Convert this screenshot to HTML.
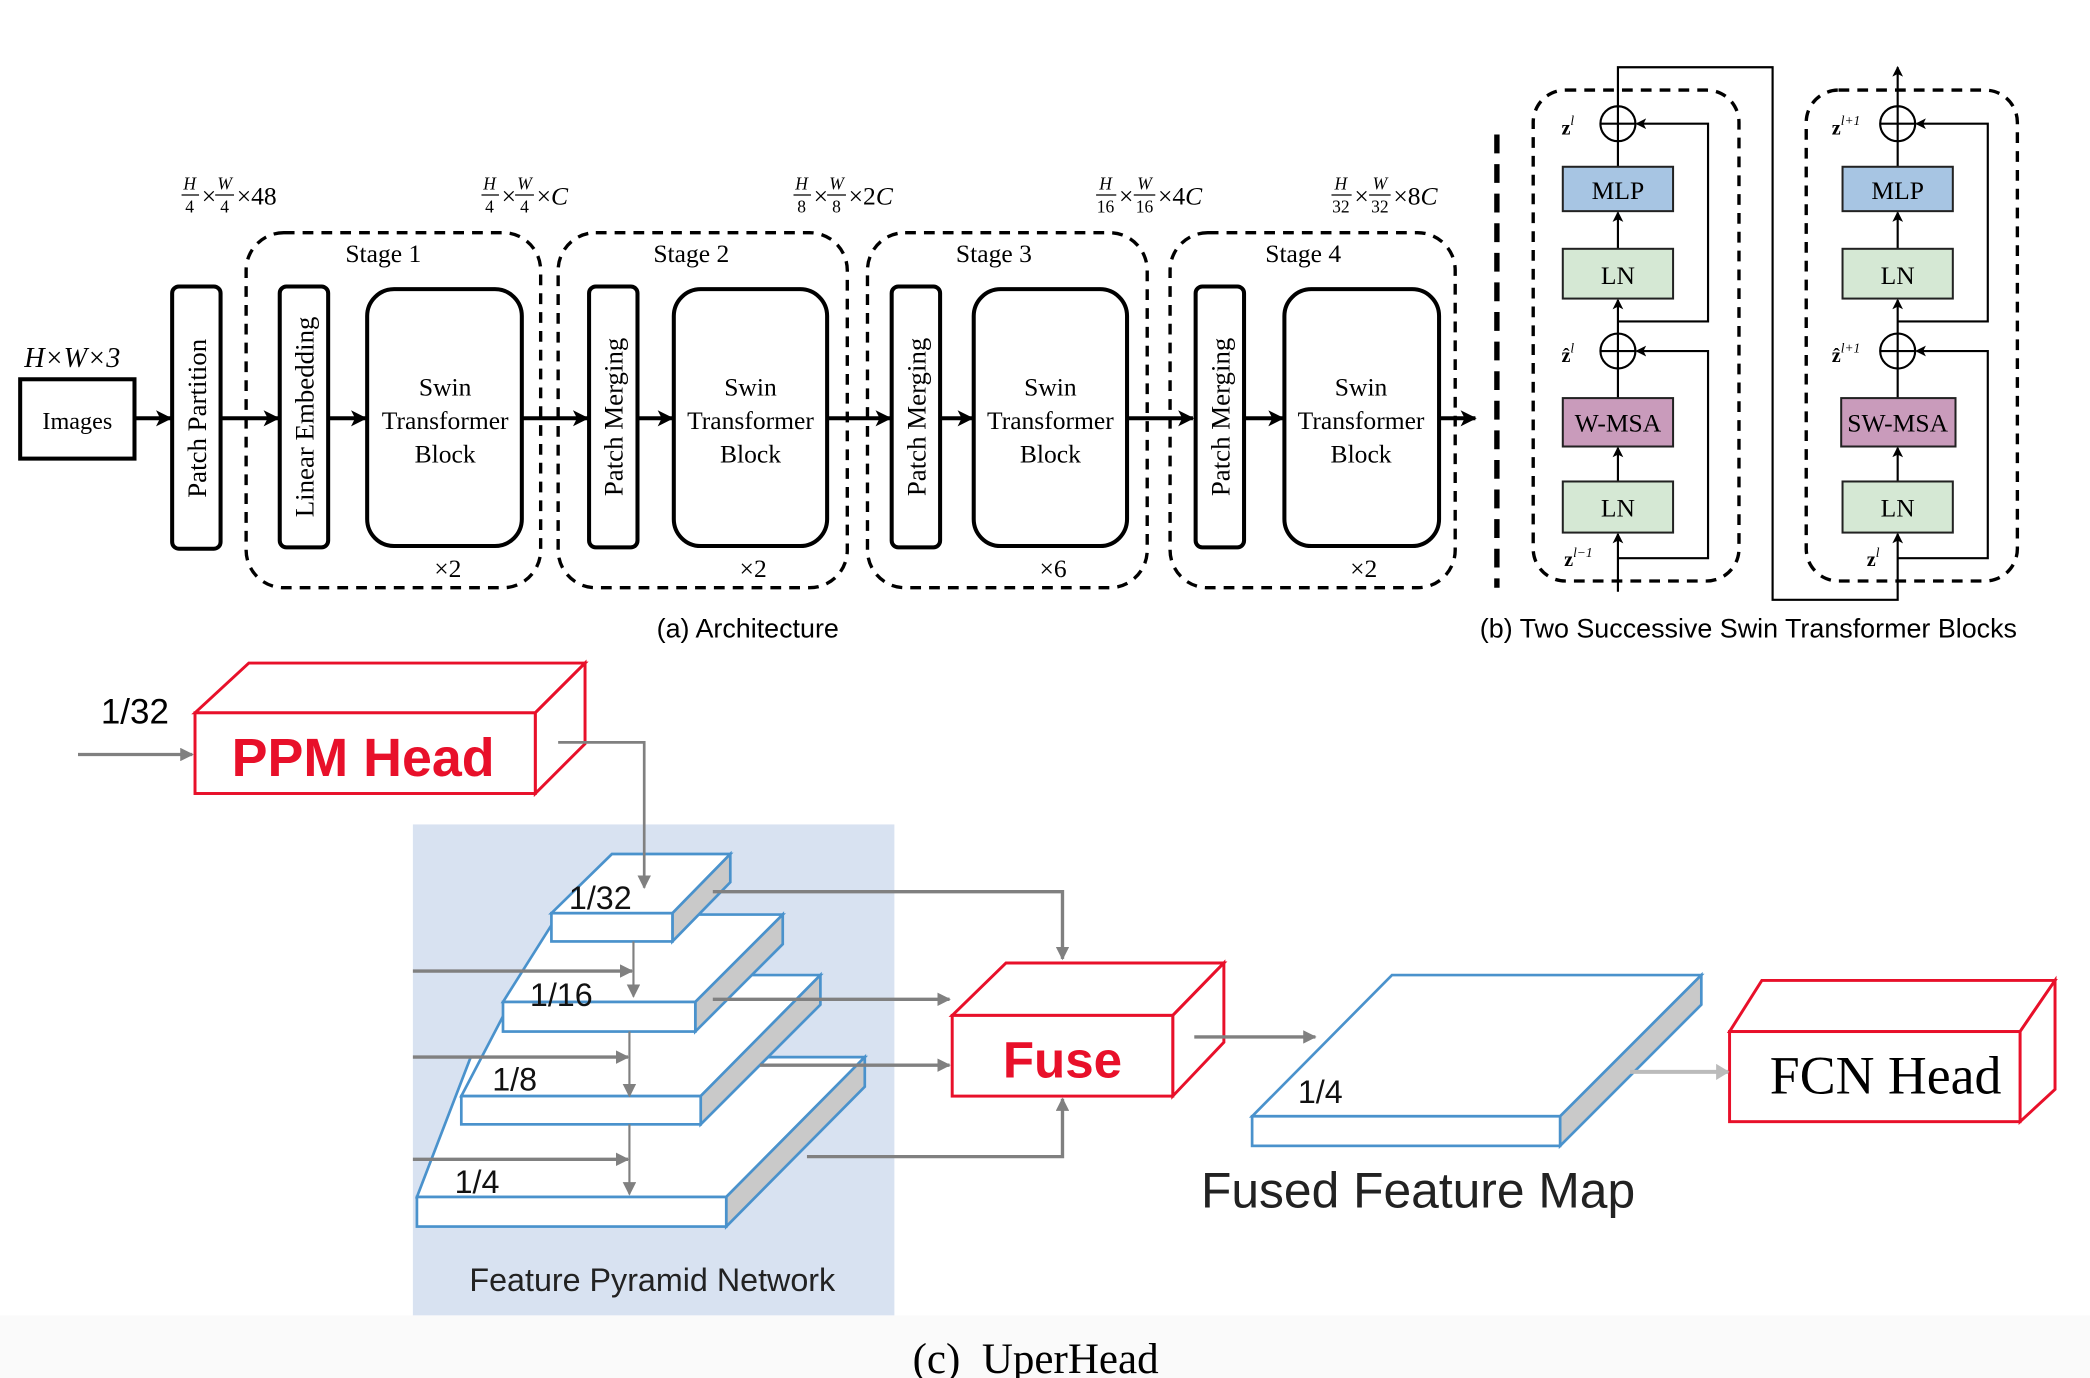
<!DOCTYPE html>
<html><head><meta charset="utf-8"><style>
html,body{margin:0;padding:0;background:#fff;}
svg{display:block;}
.serif{font-family:"Liberation Serif",serif;}
.sans{font-family:"Liberation Sans",sans-serif;}
</style></head><body>
<svg width="2090" height="1378" viewBox="0 0 1554 1024.6" preserveAspectRatio="none" xmlns="http://www.w3.org/2000/svg">
<defs>
<marker id="ab" markerWidth="8" markerHeight="8" refX="7" refY="4" orient="auto" markerUnits="userSpaceOnUse"><path d="M0,0 L8,4 L0,8 L2,4 z" fill="#000"/></marker>
<marker id="abs" markerWidth="12" markerHeight="12" refX="11" refY="6" orient="auto" markerUnits="userSpaceOnUse"><path d="M0,0 L12,6 L0,12 L3,6 z" fill="#000"/></marker>
<marker id="ag" markerWidth="10" markerHeight="10" refX="9" refY="5" orient="auto" markerUnits="userSpaceOnUse"><path d="M0,0 L10,5 L0,10 z" fill="#808080"/></marker>
<marker id="agl" markerWidth="10" markerHeight="12" refX="9" refY="6" orient="auto" markerUnits="userSpaceOnUse"><path d="M0,0 L10,6 L0,12 z" fill="#bbb"/></marker>
</defs>
<rect x="0" y="0" width="1554" height="1025" fill="#fff"/>
<rect x="0" y="978" width="1554" height="47" fill="#fafafa"/>

<!-- (a) -->
<g class="serif" fill="#000">
<text x="18" y="273" font-size="21" font-style="italic">H×W×3</text>
<rect x="15" y="282" width="85" height="59" fill="none" stroke="#000" stroke-width="3"/>
<text x="57.5" y="319" font-size="18" text-anchor="middle">Images</text>
</g>
<g stroke="#000" stroke-width="3" fill="none">
<line x1="100" y1="311" x2="127" y2="311" marker-end="url(#abs)"/>
<line x1="164" y1="311" x2="207" y2="311" marker-end="url(#abs)"/>
<line x1="244" y1="311" x2="272" y2="311" marker-end="url(#abs)"/>
<line x1="388" y1="311" x2="437" y2="311" marker-end="url(#abs)"/>
<line x1="474" y1="311" x2="500" y2="311" marker-end="url(#abs)"/>
<line x1="615" y1="311" x2="662" y2="311" marker-end="url(#abs)"/>
<line x1="699" y1="311" x2="723" y2="311" marker-end="url(#abs)"/>
<line x1="838" y1="311" x2="887" y2="311" marker-end="url(#abs)"/>
<line x1="925" y1="311" x2="954" y2="311" marker-end="url(#abs)"/>
<line x1="1070" y1="311" x2="1097" y2="311" marker-end="url(#abs)"/>
<rect x="128" y="213" width="36" height="195" rx="5"/>
<rect x="208" y="213" width="36" height="194" rx="5"/>
<rect x="438" y="213" width="36" height="194" rx="5"/>
<rect x="663" y="213" width="36" height="194" rx="5"/>
<rect x="889" y="213" width="36" height="194" rx="5"/>
<rect x="273" y="215" width="115" height="191" rx="20"/>
<rect x="501" y="215" width="114" height="191" rx="20"/>
<rect x="724" y="215" width="114" height="191" rx="20"/>
<rect x="955" y="215" width="115" height="191" rx="20"/>
</g>
<g stroke="#000" stroke-width="2.5" fill="none" stroke-dasharray="8,6">
<rect x="183" y="173" width="219" height="264" rx="28"/>
<rect x="415" y="173" width="215" height="264" rx="28"/>
<rect x="645" y="173" width="208" height="264" rx="28"/>
<rect x="870" y="173" width="212" height="264" rx="28"/>
</g>
<g class="serif" font-size="20" fill="#000" text-anchor="middle">
<text transform="translate(153,311) rotate(-90)">Patch Partition</text>
<text transform="translate(233,310) rotate(-90)">Linear Embedding</text>
<text transform="translate(463,310) rotate(-90)">Patch Merging</text>
<text transform="translate(688,310) rotate(-90)">Patch Merging</text>
<text transform="translate(914,310) rotate(-90)">Patch Merging</text>
<g font-size="19">
<text x="331" y="294">Swin</text><text x="331" y="319">Transformer</text><text x="331" y="344">Block</text>
<text x="558" y="294">Swin</text><text x="558" y="319">Transformer</text><text x="558" y="344">Block</text>
<text x="781" y="294">Swin</text><text x="781" y="319">Transformer</text><text x="781" y="344">Block</text>
<text x="1012" y="294">Swin</text><text x="1012" y="319">Transformer</text><text x="1012" y="344">Block</text>
<text x="285" y="195">Stage 1</text><text x="514" y="195">Stage 2</text>
<text x="739" y="195">Stage 3</text><text x="969" y="195">Stage 4</text>
<text x="333" y="429">×2</text><text x="560" y="429">×2</text>
<text x="783" y="429">×6</text><text x="1014" y="429">×2</text>
</g>
</g>
<!-- dims -->
<g class="serif" fill="#000" font-size="13">
<g transform="translate(135,0)"><text x="6" y="141" font-style="italic" text-anchor="middle">H</text><line x1="0" y1="145" x2="13" y2="145" stroke="#000"/><text x="6" y="158" text-anchor="middle">4</text>
<text x="15" y="152" font-size="19">×</text><text x="32" y="141" font-style="italic" text-anchor="middle">W</text><line x1="25" y1="145" x2="39" y2="145" stroke="#000"/><text x="32" y="158" text-anchor="middle">4</text><text x="41" y="152" font-size="19">×48</text></g>
<g transform="translate(358,0)"><text x="6" y="141" font-style="italic" text-anchor="middle">H</text><line x1="0" y1="145" x2="13" y2="145" stroke="#000"/><text x="6" y="158" text-anchor="middle">4</text>
<text x="15" y="152" font-size="19">×</text><text x="32" y="141" font-style="italic" text-anchor="middle">W</text><line x1="25" y1="145" x2="39" y2="145" stroke="#000"/><text x="32" y="158" text-anchor="middle">4</text><text x="41" y="152" font-size="19">×<tspan font-style="italic">C</tspan></text></g>
<g transform="translate(590,0)"><text x="6" y="141" font-style="italic" text-anchor="middle">H</text><line x1="0" y1="145" x2="13" y2="145" stroke="#000"/><text x="6" y="158" text-anchor="middle">8</text>
<text x="15" y="152" font-size="19">×</text><text x="32" y="141" font-style="italic" text-anchor="middle">W</text><line x1="25" y1="145" x2="39" y2="145" stroke="#000"/><text x="32" y="158" text-anchor="middle">8</text><text x="41" y="152" font-size="19">×2<tspan font-style="italic">C</tspan></text></g>
<g transform="translate(815,0)"><text x="7" y="141" font-style="italic" text-anchor="middle">H</text><line x1="0" y1="145" x2="15" y2="145" stroke="#000"/><text x="7" y="158" text-anchor="middle">16</text>
<text x="17" y="152" font-size="19">×</text><text x="36" y="141" font-style="italic" text-anchor="middle">W</text><line x1="28" y1="145" x2="44" y2="145" stroke="#000"/><text x="36" y="158" text-anchor="middle">16</text><text x="46" y="152" font-size="19">×4<tspan font-style="italic">C</tspan></text></g>
<g transform="translate(990,0)"><text x="7" y="141" font-style="italic" text-anchor="middle">H</text><line x1="0" y1="145" x2="15" y2="145" stroke="#000"/><text x="7" y="158" text-anchor="middle">32</text>
<text x="17" y="152" font-size="19">×</text><text x="36" y="141" font-style="italic" text-anchor="middle">W</text><line x1="28" y1="145" x2="44" y2="145" stroke="#000"/><text x="36" y="158" text-anchor="middle">32</text><text x="46" y="152" font-size="19">×8<tspan font-style="italic">C</tspan></text></g>
</g>
<text x="556" y="474" class="sans" font-size="20" text-anchor="middle">(a) Architecture</text>
<line x1="1113" y1="100" x2="1113" y2="437" stroke="#000" stroke-width="4" stroke-dasharray="14,8"/>

<!-- (b) -->
<g stroke="#000" stroke-width="2.5" fill="none" stroke-dasharray="8,6">
<rect x="1140" y="67" width="153" height="365" rx="24"/>
<rect x="1343" y="67" width="157" height="365" rx="24"/>
</g>
<g stroke="#000" stroke-width="1.6" fill="none">
<!-- block1 -->
<line x1="1203" y1="440" x2="1203" y2="397" marker-end="url(#ab)"/>
<line x1="1203" y1="358" x2="1203" y2="333" marker-end="url(#ab)"/>
<line x1="1203" y1="296" x2="1203" y2="274"/>
<line x1="1203" y1="248" x2="1203" y2="223" marker-end="url(#ab)"/>
<line x1="1203" y1="185" x2="1203" y2="158" marker-end="url(#ab)"/>
<line x1="1203" y1="124" x2="1203" y2="105"/>
<polyline points="1203,415 1270,415 1270,261 1217,261" marker-end="url(#ab)"/>
<polyline points="1203,239 1270,239 1270,92 1217,92" marker-end="url(#ab)"/>
<polyline points="1203,79 1203,50 1318,50 1318,446 1411,446 1411,397" marker-end="url(#ab)"/>
<circle cx="1203" cy="92" r="13"/><line x1="1190" y1="92" x2="1216" y2="92"/>
<circle cx="1203" cy="261" r="13"/><line x1="1190" y1="261" x2="1216" y2="261"/>
<!-- block2 -->
<line x1="1411" y1="358" x2="1411" y2="333" marker-end="url(#ab)"/>
<line x1="1411" y1="296" x2="1411" y2="274"/>
<line x1="1411" y1="248" x2="1411" y2="223" marker-end="url(#ab)"/>
<line x1="1411" y1="185" x2="1411" y2="158" marker-end="url(#ab)"/>
<line x1="1411" y1="124" x2="1411" y2="105"/>
<polyline points="1411,415 1478,415 1478,261 1425,261" marker-end="url(#ab)"/>
<polyline points="1411,239 1478,239 1478,92 1425,92" marker-end="url(#ab)"/>
<line x1="1411" y1="79" x2="1411" y2="50" marker-end="url(#ab)"/>
<circle cx="1411" cy="92" r="13"/><line x1="1398" y1="92" x2="1424" y2="92"/><line x1="1411" y1="79" x2="1411" y2="105"/>
<circle cx="1411" cy="261" r="13"/><line x1="1398" y1="261" x2="1424" y2="261"/><line x1="1411" y1="248" x2="1411" y2="274"/>
<line x1="1203" y1="79" x2="1203" y2="105"/><line x1="1203" y1="248" x2="1203" y2="274"/>
</g>
<g stroke="#222" stroke-width="1.5">
<rect x="1162" y="124" width="82" height="33" fill="#a7c5e3"/>
<rect x="1162" y="185" width="82" height="37" fill="#d5e8d4"/>
<rect x="1162" y="296" width="82" height="36" fill="#c99bbb"/>
<rect x="1162" y="358" width="82" height="38" fill="#d5e8d4"/>
<rect x="1370" y="124" width="82" height="33" fill="#a7c5e3"/>
<rect x="1370" y="185" width="82" height="37" fill="#d5e8d4"/>
<rect x="1369" y="296" width="85" height="36" fill="#c99bbb"/>
<rect x="1370" y="358" width="82" height="38" fill="#d5e8d4"/>
</g>
<g class="serif" font-size="19" text-anchor="middle" fill="#000">
<text x="1203" y="148">MLP</text><text x="1203" y="211">LN</text><text x="1203" y="321">W-MSA</text><text x="1203" y="384">LN</text>
<text x="1411" y="148">MLP</text><text x="1411" y="211">LN</text><text x="1411" y="321">SW-MSA</text><text x="1411" y="384">LN</text>
</g>
<g class="serif" font-size="15" font-weight="bold" fill="#000">
<text x="1161" y="100">z<tspan font-size="10" font-style="italic" font-weight="normal" dy="-7">l</tspan></text>
<text x="1161" y="269">ẑ<tspan font-size="10" font-style="italic" font-weight="normal" dy="-7">l</tspan></text>
<text x="1163" y="421">z<tspan font-size="10" font-style="italic" font-weight="normal" dy="-7">l−1</tspan></text>
<text x="1362" y="100">z<tspan font-size="10" font-style="italic" font-weight="normal" dy="-7">l+1</tspan></text>
<text x="1362" y="269">ẑ<tspan font-size="10" font-style="italic" font-weight="normal" dy="-7">l+1</tspan></text>
<text x="1388" y="421">z<tspan font-size="10" font-style="italic" font-weight="normal" dy="-7">l</tspan></text>
</g>
<text x="1300" y="474" class="sans" font-size="20" text-anchor="middle">(b) Two Successive Swin Transformer Blocks</text>

<!-- (c) -->
<rect x="307" y="613" width="358" height="365" fill="#d8e2f1"/>
<g stroke="#e8102a" stroke-width="2.2" fill="#fff">
<polygon points="145,530 185,493 435,493 398,530"/>
<polygon points="398,530 435,493 435,553 398,590"/>
<rect x="145" y="530" width="253" height="60"/>
<polygon points="708,755 748,716 910,716 872,755"/>
<polygon points="872,755 910,716 910,775 872,815"/>
<rect x="708" y="755" width="164" height="60"/>
<polygon points="1286,767 1310,729 1528,729 1502,767"/>
<polygon points="1502,767 1528,729 1528,810 1502,834"/>
<rect x="1286" y="767" width="216" height="67"/>
</g>
<text x="270" y="577" class="sans" font-size="40" font-weight="bold" fill="#e8102a" text-anchor="middle">PPM Head</text>
<text x="790" y="801" class="sans" font-size="38" font-weight="bold" fill="#e8102a" text-anchor="middle">Fuse</text>
<text x="1402" y="813" class="serif" font-size="40" fill="#000" text-anchor="middle">FCN Head</text>
<text x="75" y="538" class="sans" font-size="26" fill="#000">1/32</text>

<!-- slabs -->
<g stroke="#4a92cc" stroke-width="2">
<polygon points="310,890 350,786 643,786 540,890" fill="#fff"/>
<polygon points="540,890 643,786 643,808 540,912" fill="#c9c9c9"/>
<rect x="310" y="890" width="230" height="22" fill="#fff"/>
<polygon points="343,815 390,725 610,725 521,815" fill="#fff"/>
<polygon points="521,815 610,725 610,747 521,836" fill="#c9c9c9"/>
<rect x="343" y="815" width="178" height="21" fill="#fff"/>
<polygon points="374,745 415,680 582,680 517,745" fill="#fff"/>
<polygon points="517,745 582,680 582,702 517,767" fill="#c9c9c9"/>
<rect x="374" y="745" width="143" height="22" fill="#fff"/>
<polygon points="410,679 455,635 543,635 500,679" fill="#fff"/>
<polygon points="500,679 543,635 543,656 500,700" fill="#c9c9c9"/>
<rect x="410" y="679" width="90" height="21" fill="#fff"/>
<polygon points="931,830 1035,725 1265,725 1160,830" fill="#fff"/>
<polygon points="1160,830 1265,725 1265,747 1160,852" fill="#c9c9c9"/>
<rect x="931" y="830" width="229" height="22" fill="#fff"/>
</g>
<g class="sans" font-size="24" fill="#111">
<text x="423" y="676">1/32</text><text x="394" y="748">1/16</text><text x="366" y="811">1/8</text><text x="338" y="887">1/4</text>
<text x="965" y="820">1/4</text>
</g>
<g stroke="#808080" stroke-width="2.5" fill="none">
<line x1="58" y1="561" x2="143" y2="561" marker-end="url(#ag)"/>
<polyline points="415,552 479,552 479,660" marker-end="url(#ag)" stroke-width="2"/>
<line x1="307" y1="722" x2="470" y2="722" marker-end="url(#ag)"/>
<line x1="307" y1="786" x2="467" y2="786" marker-end="url(#ag)"/>
<line x1="307" y1="862" x2="467" y2="862" marker-end="url(#ag)"/>
<line x1="471" y1="700" x2="471" y2="741" marker-end="url(#ag)" stroke-width="1.6"/>
<line x1="468" y1="767" x2="468" y2="815" marker-end="url(#ag)" stroke-width="1.6"/>
<line x1="468" y1="836" x2="468" y2="888" marker-end="url(#ag)" stroke-width="1.6"/>
<polyline points="530,663 790,663 790,713" marker-end="url(#ag)"/>
<line x1="530" y1="743" x2="706" y2="743" marker-end="url(#ag)"/>
<line x1="565" y1="792" x2="706" y2="792" marker-end="url(#ag)"/>
<polyline points="600,860 790,860 790,817" marker-end="url(#ag)"/>
<line x1="888" y1="771" x2="978" y2="771" marker-end="url(#ag)"/>
</g>
<line x1="1212" y1="797" x2="1285" y2="797" stroke="#bbb" stroke-width="3" marker-end="url(#agl)"/>
<text x="893" y="898" class="sans" font-size="37" fill="#222">Fused Feature Map</text>
<text x="349" y="960" class="sans" font-size="24" fill="#222">Feature Pyramid Network</text>
<text x="770" y="1021" class="serif" font-size="32" fill="#000" text-anchor="middle" xml:space="preserve">(c)  UperHead</text>
</svg>
</body></html>
